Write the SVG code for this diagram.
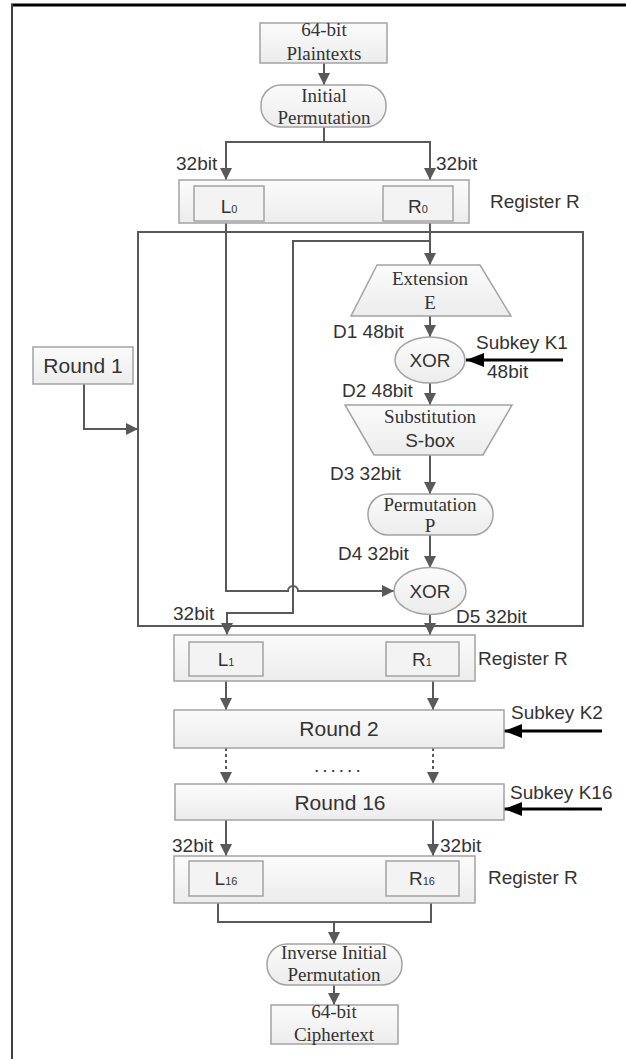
<svg xmlns="http://www.w3.org/2000/svg" width="626" height="1059" viewBox="0 0 626 1059">
  <style>
    .box { fill: url(#boxFill); stroke: #a3a3a3; stroke-width: 1.5; }
    .inner { fill: #f3f3f3; stroke: #a3a3a3; stroke-width: 1.5; }
    .serif { font-family: "Liberation Serif", "Times New Roman", serif; font-size: 19px; fill: #333; text-anchor: middle; }
    .sans { font-family: "Liberation Sans", Arial, sans-serif; font-size: 19px; fill: #333; }
    .mid { text-anchor: middle; }
    .round { font-size: 21px; }
    .wire { fill: none; stroke: #595959; stroke-width: 2; marker-end: url(#ah); }
    .plain { fill: none; stroke: #595959; stroke-width: 2; }
    .dotted { fill: none; stroke: #595959; stroke-width: 2; stroke-dasharray: 3 3; marker-end: url(#ah); }
    .key { fill: none; stroke: #000; stroke-width: 3; marker-end: url(#keyHead); }
  </style>
  <defs>
    <linearGradient id="boxFill" x1="0" y1="0" x2="0" y2="1">
      <stop offset="0" stop-color="#fbfbfb"/>
      <stop offset="1" stop-color="#ececec"/>
    </linearGradient>
    <marker id="ah" viewBox="0 0 10 10" refX="10" refY="5" markerWidth="12" markerHeight="12" markerUnits="userSpaceOnUse" orient="auto">
      <path d="M0,0 L10,5 L0,10 z" fill="#595959"/>
    </marker>
    <marker id="keyHead" viewBox="0 0 18 14" refX="18" refY="7" markerWidth="18" markerHeight="14" markerUnits="userSpaceOnUse" orient="auto">
      <path d="M0,0 L18,7 L0,14 z" fill="#000"/>
    </marker>
  </defs>

  <!-- page rules -->
  <line x1="11" y1="5" x2="626" y2="5" stroke="#000" stroke-width="3"/>
  <line x1="12" y1="4" x2="12" y2="1059" stroke="#404040" stroke-width="2"/>

  <!-- round-1 block frame -->
  <rect id="round1-frame" x="138" y="232" width="445" height="394" fill="none" stroke="#595959" stroke-width="2"/>

  <!-- connectors -->
  <g id="connectors">
    <path class="wire" d="M324,63 V85"/>
    <path class="wire" d="M324,127 V142 H226 V180"/>
    <path class="wire" d="M324,142 H430 V180"/>
    <path class="wire" d="M226,223 V591 H288 A5,5 0 0 1 298,591 H394"/>
    <path class="wire" d="M430,223 V265"/>
    <path class="wire" d="M430,241 H293 V613 H227 V635"/>
    <path class="wire" d="M430,316 V337"/>
    <path class="key" d="M563,360 H466"/>
    <path class="wire" d="M430,383 V405"/>
    <path class="wire" d="M430,455 V494"/>
    <path class="wire" d="M430,535 V568"/>
    <path class="wire" d="M430,615 V635"/>
    <path class="wire" d="M84,384 V429 H138"/>
    <path class="wire" d="M226,681 V710"/>
    <path class="wire" d="M433,681 V710"/>
    <path class="key" d="M602,731 H504"/>
    <path class="dotted" d="M226,748 V784"/>
    <path class="dotted" d="M433,748 V784"/>
    <path class="key" d="M602,809 H504"/>
    <path class="wire" d="M226,820 V856"/>
    <path class="wire" d="M433,820 V856"/>
    <path class="plain" d="M218,903 V922 H431 V903"/>
    <path class="wire" d="M334,922 V944"/>
    <path class="wire" d="M334,985 V1005"/>
  </g>

  <!-- connector labels -->
  <g id="labels" class="sans">
    <text x="176" y="170">32bit</text>
    <text x="436" y="170">32bit</text>
    <text x="333" y="338">D1 48bit</text>
    <text x="476" y="349">Subkey K1</text>
    <text x="487" y="378">48bit</text>
    <text x="342" y="397">D2 48bit</text>
    <text x="330" y="480">D3 32bit</text>
    <text x="338" y="560">D4 32bit</text>
    <text x="456" y="623">D5 32bit</text>
    <text x="173" y="620">32bit</text>
    <text x="511" y="719">Subkey K2</text>
    <text x="314" y="772" letter-spacing="3">......</text>
    <text x="510" y="799">Subkey K16</text>
    <text x="172" y="852">32bit</text>
    <text x="440" y="852">32bit</text>
  </g>

  <g id="plaintext">
    <rect class="box" x="260" y="23" width="127" height="40"/>
    <text class="serif" x="324" y="36">64-bit</text>
    <text class="serif" x="324" y="60">Plaintexts</text>
  </g>

  <g id="initial-permutation">
    <rect class="box" x="261" y="85" width="125" height="42" rx="20"/>
    <text class="serif" x="324" y="102">Initial</text>
    <text class="serif" x="324" y="124">Permutation</text>
  </g>

  <g id="register-0">
    <rect class="box" x="179" y="180" width="290" height="43"/>
    <rect class="inner" x="194" y="186" width="70" height="35"/>
    <rect class="inner" x="383" y="186" width="70" height="35"/>
    <text class="sans mid" x="229" y="213" font-size="18">L<tspan font-size="11">0</tspan></text>
    <text class="sans mid" x="418" y="213" font-size="18">R<tspan font-size="11">0</tspan></text>
    <text class="sans" x="490" y="208">Register R</text>
  </g>

  <g id="round-1-label">
    <rect class="box" x="33" y="347" width="100" height="37"/>
    <text class="sans mid round" x="83" y="373">Round 1</text>
  </g>

  <g id="extension">
    <polygon class="box" points="377,265 480,265 511,316 351,316"/>
    <text class="serif" x="430" y="285">Extension</text>
    <text class="serif" x="430" y="309">E</text>
  </g>

  <g id="xor-1">
    <ellipse class="box" cx="430" cy="360" rx="35" ry="23"/>
    <text class="sans mid" x="430" y="367" font-size="17">XOR</text>
  </g>

  <g id="substitution">
    <polygon class="box" points="345,405 512,405 483,455 374,455"/>
    <text class="serif" x="430" y="423">Substitution</text>
    <text class="sans mid" x="430" y="447" font-size="17">S-box</text>
  </g>

  <g id="permutation-p">
    <rect class="box" x="368" y="494" width="125" height="41" rx="20"/>
    <text class="serif" x="430" y="511">Permutation</text>
    <text class="serif" x="430" y="532">P</text>
  </g>

  <g id="xor-2">
    <ellipse class="box" cx="430" cy="591" rx="36" ry="23.5"/>
    <text class="sans mid" x="430" y="598" font-size="17">XOR</text>
  </g>

  <g id="register-1">
    <rect class="box" x="174" y="635" width="301" height="46"/>
    <rect class="inner" x="189" y="642" width="74" height="34"/>
    <rect class="inner" x="386" y="642" width="73" height="34"/>
    <text class="sans mid" x="226" y="666" font-size="18">L<tspan font-size="11">1</tspan></text>
    <text class="sans mid" x="422" y="666" font-size="18">R<tspan font-size="11">1</tspan></text>
    <text class="sans" x="478" y="665">Register R</text>
  </g>

  <g id="round-2">
    <rect class="box" x="174" y="710" width="330" height="38"/>
    <text class="sans mid round" x="339" y="736">Round 2</text>
  </g>

  <g id="round-16">
    <rect class="box" x="175" y="784" width="329" height="36"/>
    <text class="sans mid round" x="340" y="810">Round 16</text>
  </g>

  <g id="register-16">
    <rect class="box" x="174" y="856" width="301" height="47"/>
    <rect class="inner" x="189" y="861" width="74" height="35"/>
    <rect class="inner" x="386" y="861" width="73" height="35"/>
    <text class="sans mid" x="226" y="885" font-size="18">L<tspan font-size="11">16</tspan></text>
    <text class="sans mid" x="422" y="885" font-size="18">R<tspan font-size="11">16</tspan></text>
    <text class="sans" x="488" y="884">Register R</text>
  </g>

  <g id="inverse-initial-permutation">
    <rect class="box" x="267" y="944" width="135" height="41" rx="20"/>
    <text class="serif" x="334" y="959">Inverse Initial</text>
    <text class="serif" x="334" y="981">Permutation</text>
  </g>

  <g id="ciphertext">
    <rect class="box" x="271" y="1005" width="127" height="39"/>
    <text class="serif" x="334" y="1018">64-bit</text>
    <text class="serif" x="334" y="1041">Ciphertext</text>
  </g>
</svg>
